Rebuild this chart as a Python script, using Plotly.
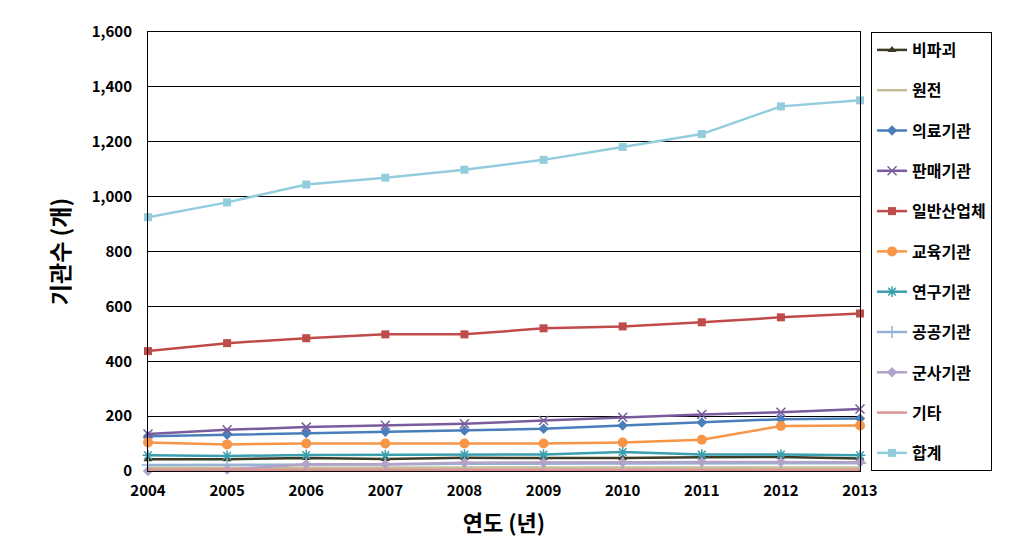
import plotly.graph_objects as go

years = [2004, 2005, 2006, 2007, 2008, 2009, 2010, 2011, 2012, 2013]
series_names = ["비파괴", "원전", "의료기관", "판매기관", "일반산업체", "교육기관",
                "연구기관", "공공기관", "군사기관", "기타", "합계"]
bipagoe = [43, 43, 47, 44, 48, 48, 47, 50, 51, 46]
wonjeon = [12, 12, 12, 12, 12, 13, 13, 13, 13, 13]
uiryo = [127, 132, 138, 143, 147, 154, 166, 177, 189, 191]
panmae = [135, 150, 160, 167, 172, 184, 196, 206, 214, 226]
ilban = [437, 466, 484, 498, 498, 520, 527, 542, 560, 574]
gyoyuk = [104, 97, 100, 100, 100, 100, 104, 114, 164, 166]
yeongu = [57, 55, 58, 58, 60, 60, 69, 60, 60, 57]
gonggong = [22, 22, 24, 24, 26, 27, 28, 28, 28, 28]
gunsa = [0, 5, 25, 25, 30, 30, 32, 33, 33, 32]
gita = [5, 5, 5, 5, 5, 5, 5, 5, 5, 5]
hapgye = [925, 979, 1044, 1069, 1098, 1134, 1181, 1228, 1329, 1351]

data = [bipagoe, wonjeon, uiryo, panmae, ilban, gyoyuk, yeongu, gonggong, gunsa, gita, hapgye]
colors = ["#3d3b24", "#c4bd97", "#4a7ebb", "#7a5c9e", "#be4b48", "#f79646",
          "#3a9fae", "#95b3d7", "#b3a2c7", "#d99694", "#93cddd"]
symbols = ["triangle-up", None, "diamond", "x-thin", "square", "circle",
           "asterisk", "cross-thin", "diamond", None, "square"]
sizes = [8, 0, 8, 9, 8, 10, 9, 9, 8, 0, 8]

FONT = "Noto Sans CJK KR"
fig = go.Figure()
for i, (name, vals, col, sym, sz) in enumerate(zip(series_names, data, colors, symbols, sizes)):
    if sym is None:
        mode = "lines"
        marker = dict()
    else:
        mode = "lines+markers"
        if sym.endswith("-thin") or sym == "asterisk":
            marker = dict(symbol=sym, size=sz, color=col, line=dict(color=col, width=1.5))
        else:
            marker = dict(symbol=sym, size=sz, color=col)
    fig.add_trace(go.Scatter(
        x=years, y=vals, name=name, mode=mode, marker=marker,
        line=dict(color=col, width=2.5), cliponaxis=False,
        legendgroup=f"g{i}",
    ))

fig.update_layout(
    width=1014, height=546,
    margin=dict(l=140, r=162, t=21, b=83),
    paper_bgcolor="white", plot_bgcolor="white",
    font=dict(family=FONT, color="black"),
    showlegend=True,
    legend=dict(
        x=1.0155, xanchor="left", y=1.0, yanchor="top",
        bordercolor="black", borderwidth=1,
        font=dict(family=FONT, size=16, color="black", weight="bold"),
        traceorder="grouped", tracegroupgap=16.5,
        itemwidth=30, maxheight=500,
    ),
    xaxis=dict(
        range=[2004, 2013], tickmode="array", tickvals=years,
        ticktext=[str(y) for y in years],
        showgrid=False, showline=True, linecolor="black", linewidth=1, mirror=True,
        ticks="", ticklabelstandoff=6,
        tickfont=dict(family=FONT, size=15, color="black", weight="bold"),
        title=dict(text="연도 (년)", font=dict(family=FONT, size=22, color="black", weight="bold"),
                   standoff=16),
        zeroline=False,
    ),
    yaxis=dict(
        range=[0, 1600], dtick=200, tickformat=",",
        showgrid=True, gridcolor="black", gridwidth=1,
        showline=True, linecolor="black", linewidth=1, mirror=True,
        ticks="", ticklabelstandoff=12,
        tickfont=dict(family=FONT, size=15, color="black", weight="bold"),
        title=dict(text="기관수 (개)", font=dict(family=FONT, size=23, color="black", weight="bold"),
                   standoff=15),
        zeroline=False,
    ),
)

fig.write_html("out.html")
